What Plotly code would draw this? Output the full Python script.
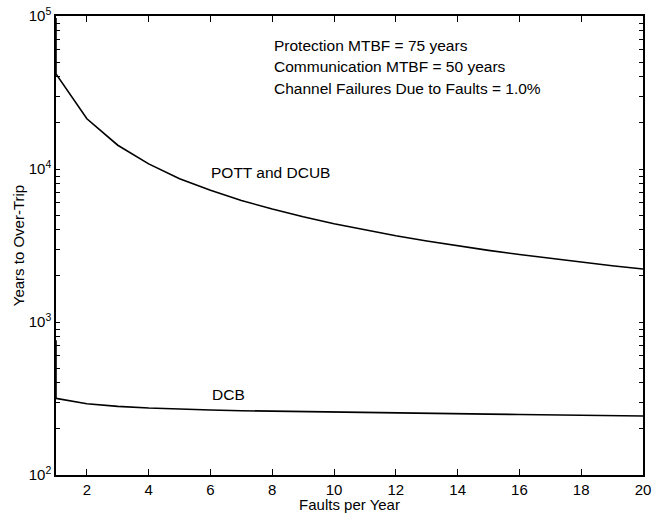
import plotly.graph_objects as go

faults = [1, 1, 2, 3, 4, 5, 6, 7, 8, 9, 10, 11, 12, 13, 14, 15, 16, 17, 18, 19, 20]
pott_dcub = [97000, 41800, 21300, 14300, 10800, 8650, 7250, 6230, 5470, 4870, 4390,
             3990, 3660, 3380, 3140, 2940, 2760, 2600, 2460, 2330, 2220]
dcb = [760, 317, 292, 281, 274, 269, 266, 263, 261, 259, 257,
       255.5, 254, 252.5, 251, 250, 248.5, 247, 246, 244.5, 243]

x_ticks = [2, 4, 6, 8, 10, 12, 14, 16, 18, 20]
y_major = {100: "10<sup>2</sup>", 1000: "10<sup>3</sup>",
           10000: "10<sup>4</sup>", 100000: "10<sup>5</sup>"}
y_minor = [m * 10 ** e for e in (2, 3, 4) for m in range(2, 10)]
y_tickvals = sorted(list(y_major) + y_minor)
y_ticktext = [y_major.get(v, "") for v in y_tickvals]

notes = ["Protection MTBF = 75 years",
         "Communication MTBF = 50 years",
         "Channel Failures Due to Faults = 1.0%"]
note_y = [4.81, 4.667, 4.523]
curve_labels = [("POTT and DCUB", 5.95, 3.974), ("DCB", 6.0, 2.523)]

FONT = "Liberation Sans, Arial, sans-serif"

fig = go.Figure()
fig.add_trace(go.Scatter(x=faults, y=pott_dcub, mode="lines",
                         line=dict(color="black", width=1.6), showlegend=False))
fig.add_trace(go.Scatter(x=faults, y=dcb, mode="lines",
                         line=dict(color="black", width=1.6), showlegend=False))

for txt, yy in zip(notes, note_y):
    fig.add_annotation(x=8.0, y=yy, xref="x", yref="y", text=txt, showarrow=False,
                       xanchor="left", yanchor="middle",
                       font=dict(family=FONT, size=15.5, color="black"))
for txt, xx, yy in curve_labels:
    fig.add_annotation(x=xx, y=yy, xref="x", yref="y", text=txt, showarrow=False,
                       xanchor="left", yanchor="middle",
                       font=dict(family=FONT, size=15.5, color="black"))

axis_common = dict(showline=True, linecolor="black", linewidth=1.5, mirror="ticks",
                   ticks="inside", tickcolor="black", tickwidth=1.2,
                   showgrid=False, zeroline=False, automargin=False,
                   tickfont=dict(family=FONT, size=15, color="black"))

fig.update_layout(
    xaxis=dict(range=[1, 20], tickvals=x_ticks, ticklen=6,
               title=dict(text="Faults per Year", standoff=2,
                          font=dict(family=FONT, size=15, color="black")),
               **axis_common),
    yaxis=dict(type="log", range=[2, 5], tickvals=y_tickvals, ticktext=y_ticktext,
               ticklen=4,
               title=dict(text="Years to Over-Trip", standoff=0,
                          font=dict(family=FONT, size=15, color="black")),
               **axis_common),
    width=653, height=513, margin=dict(l=56, r=10, t=16, b=38),
    plot_bgcolor="white", paper_bgcolor="white",
    font=dict(family=FONT, color="black"))

fig.write_html("out.html")
